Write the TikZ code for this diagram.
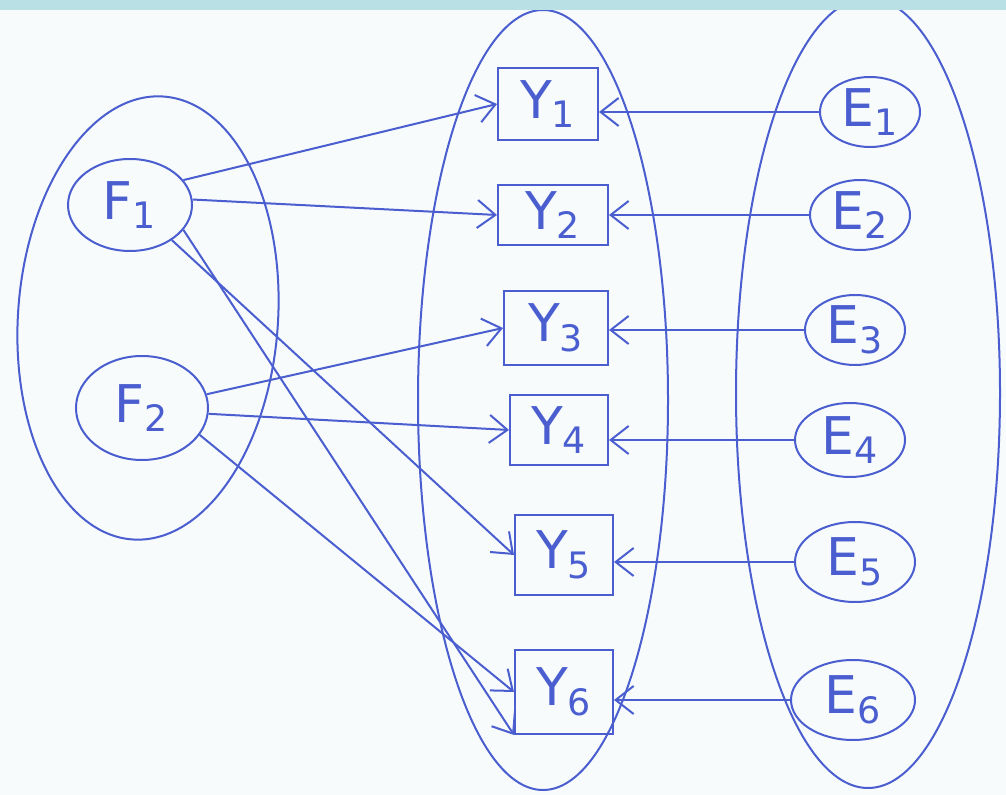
\documentclass[tikz,border=0pt]{standalone}
\usepackage{fontspec}
\setsansfont{DejaVu Sans}
\usetikzlibrary{shapes.geometric,arrows.meta}
\definecolor{ink}{HTML}{4A5ED0}
\definecolor{band}{HTML}{B9E0E4}
\definecolor{paper}{HTML}{F7FBFC}
\newcommand{\lbl}[2]{#1\textsubscript{#2}}
\tikzset{
  every node/.style={text=ink,font=\sffamily\fontsize{26}{26}\selectfont},
  var/.style={draw=ink,line width=1pt,ellipse,inner sep=0pt},
  obs/.style={draw=ink,line width=1pt,rectangle,inner sep=0pt},
  grp/.style={draw=ink,line width=1pt,ellipse,inner sep=0pt},
  arr/.style={draw=ink,line width=1pt,-{Straight Barb[length=9pt,width=14pt,line width=1pt]}},
}
\begin{document}
\begin{tikzpicture}[x=0.5pt,y=-0.5pt]
\useasboundingbox (0,0) rectangle (1006,795);
\fill[paper] (0,0) rectangle (1006,795);
% groups
\node[grp,minimum width=130pt,minimum height=222pt,rotate=-4] (GF) at (148,318) {};
\node[grp,minimum width=125pt,minimum height=390pt] (GY) at (543,400) {};
\node[grp,minimum width=132pt,minimum height=395pt] (GE) at (868,393) {};
% factors
\node[var,minimum width=62pt,minimum height=46pt] (F1) at (130,205) {\lbl{F}{1}};
\node[var,minimum width=66pt,minimum height=52pt] (F2) at (142,408) {\lbl{F}{2}};
% observed
\node[obs,minimum width=50pt,minimum height=36pt] (Y1) at (548,104) {\lbl{Y}{1}};
\node[obs,minimum width=55pt,minimum height=30pt] (Y2) at (553,215) {\lbl{Y}{2}};
\node[obs,minimum width=52pt,minimum height=37pt] (Y3) at (556,328) {\lbl{Y}{3}};
\node[obs,minimum width=49pt,minimum height=35pt] (Y4) at (559,430) {\lbl{Y}{4}};
\node[obs,minimum width=49pt,minimum height=40pt] (Y5) at (564,555) {\lbl{Y}{5}};
\node[obs,minimum width=49pt,minimum height=42pt] (Y6) at (564,692) {\lbl{Y}{6}};
% errors
\node[var,minimum width=50pt,minimum height=35pt] (E1) at (870,112) {\lbl{E}{1}};
\node[var,minimum width=50pt,minimum height=35pt] (E2) at (860,215) {\lbl{E}{2}};
\node[var,minimum width=50pt,minimum height=35pt] (E3) at (855,330) {\lbl{E}{3}};
\node[var,minimum width=55pt,minimum height=37pt] (E4) at (850,440) {\lbl{E}{4}};
\node[var,minimum width=60pt,minimum height=40pt] (E5) at (855,562) {\lbl{E}{5}};
\node[var,minimum width=62pt,minimum height=40pt] (E6) at (853,700) {\lbl{E}{6}};
% error arrows
\foreach \i in {1,...,6} \draw[arr] (E\i.west) -- (E\i.west -| Y\i.east);
% loadings
\draw[arr] (F1.25) -- (Y1.west);
\draw[arr] (F1.5) -- (Y2.west);
\draw[arr] (F1.-40) -- (Y5.west);
\draw[arr] (F1.-25) -- (Y6.south west);
\draw[arr] (F2.12) -- (Y3.west);
\draw[arr] (F2.-5) -- (Y4.west);
\draw[arr] (F2.-25) -- (Y6.west);
% top band
\fill[band] (0,0) rectangle (1006,10);
\end{tikzpicture}
\end{document}
